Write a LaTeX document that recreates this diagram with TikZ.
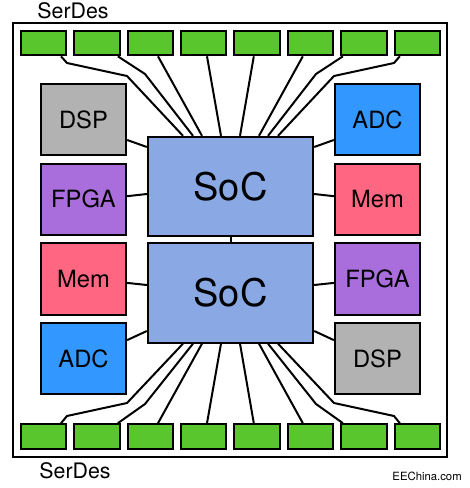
\documentclass[tikz,border=0pt]{standalone}
\usepackage{fontspec}
\setmainfont{TeX Gyre Heros}
\usepackage{xcolor}
\usepackage{tikz}
\usetikzlibrary{calc}

\begin{document}
\begin{tikzpicture}[x=0.75pt,y=0.75pt,yscale=-1,xscale=1,
  pad/.style={draw,line width=1.5pt,fill={rgb, 255:red, 88; green, 198; blue, 44 },minimum width=34pt,minimum height=18.5pt,inner sep=0pt},
  blk/.style={draw,line width=1.5pt,minimum width=64pt,minimum height=53.5pt,inner sep=0pt,font=\fontsize{17.8}{20}\selectfont},
  soc/.style={draw,line width=1.5pt,fill={rgb, 255:red, 138; green, 168; blue, 228 },minimum width=124pt,minimum height=74.5pt,inner sep=0pt,font=\fontsize{28.5}{32}\selectfont},
  wire/.style={line width=1.5pt,line join=round}]
\useasboundingbox (0,0) rectangle (470,488);

%Frame
\draw [line width=1.5pt] (13,23) rectangle (447,457) ;

%SoC
\node [soc] (socA) at (230.5,186.5) {SoC};
\node [soc] (socB) at (230.5,293) {SoC};

%Left column
\node [blk,fill={rgb, 255:red, 178; green, 178; blue, 178 }] (dspL) at (83.5,119.5) {DSP};
\node [blk,fill={rgb, 255:red, 170; green, 110; blue, 220 }] (fpgaL) at (83.5,199.2) {FPGA};
\node [blk,fill={rgb, 255:red, 255; green, 102; blue, 130 }] (memL) at (83.5,278.9) {Mem};
\node [blk,fill={rgb, 255:red, 50; green, 152; blue, 255 }] (adcL) at (83.5,358.6) {ADC};
%Right column
\node [blk,fill={rgb, 255:red, 50; green, 152; blue, 255 }] (adcR) at (377.5,119.5) {ADC};
\node [blk,fill={rgb, 255:red, 255; green, 102; blue, 130 }] (memR) at (377.5,199.2) {Mem};
\node [blk,fill={rgb, 255:red, 170; green, 110; blue, 220 }] (fpgaR) at (377.5,278.9) {FPGA};
\node [blk,fill={rgb, 255:red, 178; green, 178; blue, 178 }] (dspR) at (377.5,358.6) {DSP};

%SerDes top
\node [pad] (t1) at (43.5,43) {};
\node [pad] (t2) at (96.9,43) {};
\node [pad] (t3) at (150.3,43) {};
\node [pad] (t4) at (203.7,43) {};
\node [pad] (t5) at (257.1,43) {};
\node [pad] (t6) at (310.5,43) {};
\node [pad] (t7) at (363.9,43) {};
\node [pad] (t8) at (417.3,43) {};
%SerDes bottom
\node [pad] (b1) at (43.5,436.5) {};
\node [pad] (b2) at (96.9,436.5) {};
\node [pad] (b3) at (150.3,436.5) {};
\node [pad] (b4) at (203.7,436.5) {};
\node [pad] (b5) at (257.1,436.5) {};
\node [pad] (b6) at (310.5,436.5) {};
\node [pad] (b7) at (363.9,436.5) {};
\node [pad] (b8) at (417.3,436.5) {};

%Top fan
\draw [wire] ($(t1.south)+(17.5,0)$) -- (67,63) -- (127,76) -- ($(socA.north)+(-47.5,0)$) ;
\draw [wire] ($(t2.south)+(21,0)$) -- (145,74) -- ($(socA.north)+(-37.5,0)$) ;
\draw [wire] ($(t3.south)+(7.7,0)$) -- ($(socA.north)+(-28.5,0)$) ;
\draw [wire] ($(t4.south)+(3.3,0)$) -- ($(socA.north)+(-9.5,0)$) ;
\draw [wire] ($(t5.south)+(-3.3,0)$) -- ($(socA.north)+(9.5,0)$) ;
\draw [wire] ($(t6.south)+(-7.7,0)$) -- ($(socA.north)+(28.5,0)$) ;
\draw [wire] ($(t7.south)+(-21,0)$) -- (316,74) -- ($(socA.north)+(37.5,0)$) ;
\draw [wire] ($(t8.south)+(-17.5,0)$) -- (394,63) -- (334,76) -- ($(socA.north)+(47.5,0)$) ;
%Bottom fan
\draw [wire] ($(b1.north)+(17.5,0)$) -- (67,416) -- (127,403) -- ($(socB.south)+(-47.5,0)$) ;
\draw [wire] ($(b2.north)+(21,0)$) -- (145,404) -- ($(socB.south)+(-37.5,0)$) ;
\draw [wire] ($(b3.north)+(7.7,0)$) -- ($(socB.south)+(-28.5,0)$) ;
\draw [wire] ($(b4.north)+(3.3,0)$) -- ($(socB.south)+(-9.5,0)$) ;
\draw [wire] ($(b5.north)+(-3.3,0)$) -- ($(socB.south)+(9.5,0)$) ;
\draw [wire] ($(b6.north)+(-7.7,0)$) -- ($(socB.south)+(28.5,0)$) ;
\draw [wire] ($(b7.north)+(-21,0)$) -- (316,404) -- ($(socB.south)+(37.5,0)$) ;
\draw [wire] ($(b8.north)+(-17.5,0)$) -- (394,416) -- (334,403) -- ($(socB.south)+(47.5,0)$) ;

%Side links
\draw [wire] ($(dspL.east)+(0,20.5)$) -- ($(socA.west)+(0,-39.5)$) ;
\draw [wire] ($(fpgaL.east)+(0,-3)$) -- ($(socA.west)+(0,7.5)$) ;
\draw [wire] ($(memL.east)+(0,4)$) -- ($(socB.west)+(0,-8)$) ;
\draw [wire] ($(adcL.east)+(0,-18.5)$) -- ($(socB.west)+(0,38)$) ;
\draw [wire] ($(adcR.west)+(0,20.5)$) -- ($(socA.east)+(0,-39.5)$) ;
\draw [wire] ($(memR.west)+(0,-3)$) -- ($(socA.east)+(0,7.5)$) ;
\draw [wire] ($(fpgaR.west)+(0,4)$) -- ($(socB.east)+(0,-8)$) ;
\draw [wire] ($(dspR.west)+(0,-18.5)$) -- ($(socB.east)+(0,38)$) ;
\draw [wire] (socA) -- (socB) ;

% Text Node
\node [font=\fontsize{16}{18}\selectfont] (lblTop) at (73,11) {SerDes};
% Text Node
\node [font=\fontsize{16}{18}\selectfont] (lblBot) at (75,471) {SerDes};
% Text Node
\node [anchor=east,inner sep=0pt,font=\fontsize{8.5}{10}\selectfont] (site) at (462,476) {EEChina.com};

\end{tikzpicture}
\end{document}
